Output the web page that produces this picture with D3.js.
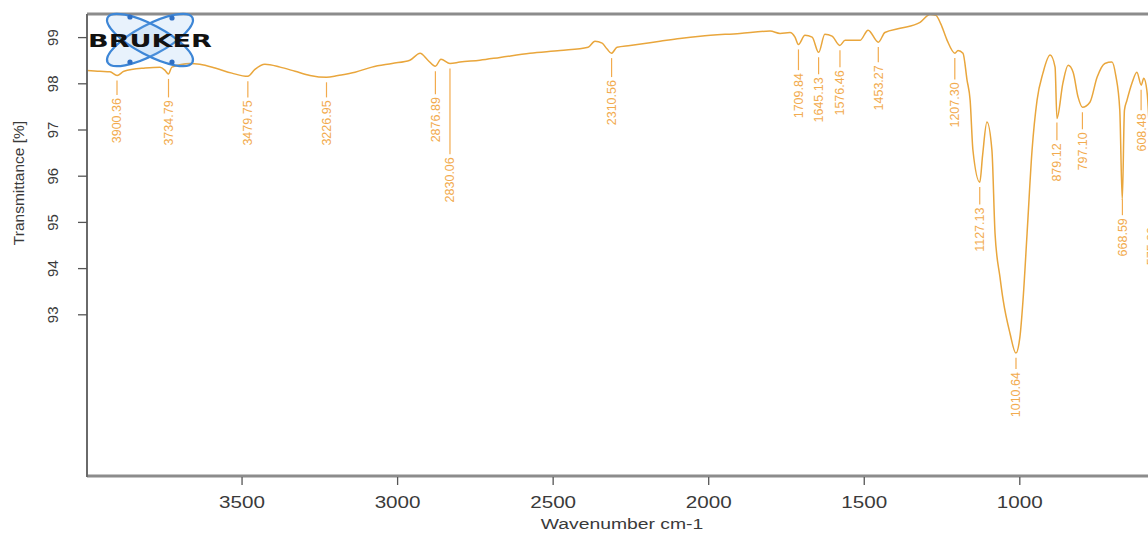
<!DOCTYPE html>
<html>
<head>
<meta charset="utf-8">
<script src="https://cdn.jsdelivr.net/npm/d3@7"></script>
<style>
  body { margin: 0; background: #fff; }
  svg { display: block; font-family: "Liberation Sans", Arial, sans-serif; }
</style>
</head>
<body>
<svg id="chart" width="1148" height="533"></svg>
<script>
/** spectrum: wavenumber (cm-1) and transmittance (%) **/
var wavenumbers = [4000, 3955, 3923, 3900, 3878, 3810, 3762, 3746, 3735, 3724, 3666, 3634, 3585, 3531, 3480,
    3457, 3425, 3376, 3328, 3280, 3227, 3190, 3135, 3081, 3016, 2959, 2926, 2901, 2877, 2859, 2830,
    2798, 2734, 2669, 2573, 2476, 2386, 2364, 2341, 2325, 2311, 2293, 2251, 2155, 2091, 2026, 1898,
    1801, 1769, 1737, 1721, 1710, 1689, 1666, 1645, 1625, 1602, 1577, 1560, 1512, 1486, 1453, 1432,
    1383, 1319, 1287, 1268, 1252, 1232, 1207, 1197, 1181, 1168, 1158, 1149, 1127, 1118, 1104, 1088,
    1078, 1062, 1052, 1030, 1011, 998, 988, 975, 959, 943, 924, 901, 885, 879, 860, 843, 827, 811,
    797, 773, 750, 725, 702, 690, 677, 669, 662, 654, 638, 622, 608, 600, 590, 580, 575, 560, 540];
var transmittance = [98.28, 98.26, 98.25, 98.17, 98.26, 98.33, 98.35, 98.28, 98.20, 98.35, 98.43, 98.41, 98.33, 98.22, 98.15,
    98.30, 98.41, 98.35, 98.26, 98.17, 98.13, 98.17, 98.24, 98.35, 98.43, 98.50, 98.65, 98.50, 98.37, 98.52, 98.43,
    98.46, 98.50, 98.56, 98.65, 98.71, 98.78, 98.91, 98.87, 98.74, 98.65, 98.78, 98.82, 98.91, 98.97, 99.02, 99.08,
    99.13, 99.08, 99.10, 99.00, 98.84, 99.04, 99.00, 98.67, 99.06, 99.02, 98.82, 98.93, 98.93, 99.15, 98.89, 99.10,
    99.19, 99.32, 99.49, 99.47, 99.28, 98.93, 98.65, 98.71, 98.65, 98.07, 97.63, 96.55, 95.86, 96.44, 97.16, 96.55,
    94.75, 93.80, 93.31, 92.59, 92.16, 92.51, 93.31, 94.75, 96.55, 97.63, 98.22, 98.61, 98.35, 97.24, 98.00, 98.39, 98.24, 97.70,
    97.48, 97.59, 98.13, 98.43, 98.46, 98.17, 97.42, 95.47, 97.42, 97.63, 98.00, 98.24, 97.96, 98.11, 97.85, 96.55, 95.36, 96.55, 97.9];

/** peak picks: label text, and level (%) where the label text starts **/
var peakLabels = ["3900.36", "3734.79", "3479.75", "3226.95", "2876.89", "2830.06", "2310.56", "1709.84", "1645.13",
    "1576.46", "1453.27", "1207.30", "1127.13", "1010.64", "879.12", "797.10", "668.59", "608.48", "575.20"];
var labelLevels = [97.68, 97.63, 97.63, 97.63, 97.70, 96.40, 98.07, 98.22, 98.13,
    98.28, 98.39, 98.02, 95.31, 91.75, 96.70, 96.94, 95.08, 97.35, 94.89];

var xTicks = [3500, 3000, 2500, 2000, 1500, 1000];
var yTicks = [93, 94, 95, 96, 97, 98, 99];

var svg = d3.select("#chart");
var plotLeft = 87, plotTop = 14, plotBottom = 476, plotRight = 1206;
var lineColor = "#e9a63c", labelColor = "#f2ab4e", axisText = "#3a3a3a";
var stretch = 1.29;

var x = d3.scaleLinear().domain([4000, 400]).range([86, 86 + 3600 * 0.3111]);
var y = d3.scaleLinear().domain([89.5, 99.5]).range([plotBottom, plotTop]);

var spectrum = wavenumbers.map(function (w, i) { return [w, transmittance[i]]; });

/** transmittance at a given wavenumber, linear between read points **/
function valueAt(w) {
    for (var i = 0; i < spectrum.length - 1; i++) {
        var a = spectrum[i], b = spectrum[i + 1];
        if (w <= a[0] && w >= b[0]) {
            var t = (a[0] - w) / (a[0] - b[0]);
            return a[1] + t * (b[1] - a[1]);
        }
    }
    return spectrum[spectrum.length - 1][1];
}

svg.append("defs").append("clipPath").attr("id", "plotclip")
    .append("rect").attr("x", plotLeft).attr("y", plotTop - 1)
    .attr("width", plotRight - plotLeft).attr("height", plotBottom - plotTop + 1);

/** spectrum line **/
var line = d3.line()
    .x(function (d) { return x(d[0]); })
    .y(function (d) { return y(d[1]); })
    .curve(d3.curveMonotoneX);

svg.append("path")
    .datum(spectrum)
    .attr("clip-path", "url(#plotclip)")
    .attr("fill", "none")
    .attr("stroke", lineColor)
    .attr("stroke-width", 1.5)
    .attr("d", line);

/** peak labels with their short marker lines **/
var peaks = svg.append("g").attr("clip-path", "url(#plotclip)");
peakLabels.forEach(function (txt, i) {
    var w = +txt;
    var px = x(w);
    var py = y(valueAt(w));
    var ty = y(labelLevels[i]);
    peaks.append("line")
        .attr("x1", px).attr("x2", px)
        .attr("y1", py + 5).attr("y2", ty - 3)
        .attr("stroke", labelColor)
        .attr("stroke-width", 1.2);
    peaks.append("text")
        .attr("transform", "translate(" + (px + 4.5) + "," + ty + ") rotate(-90)")
        .attr("text-anchor", "end")
        .style("font-size", "12.5px")
        .style("fill", labelColor)
        .text(txt);
});

/** frame **/
svg.append("line").attr("x1", plotLeft).attr("x2", 1148).attr("y1", plotTop).attr("y2", plotTop)
    .attr("stroke", "#8c8c8c").attr("stroke-width", 3);
svg.append("line").attr("x1", plotLeft).attr("x2", 1148).attr("y1", plotBottom).attr("y2", plotBottom)
    .attr("stroke", "#8c8c8c").attr("stroke-width", 3);
svg.append("line").attr("x1", plotLeft).attr("x2", plotLeft).attr("y1", plotTop).attr("y2", plotBottom + 1)
    .attr("stroke", "#6a6a6a").attr("stroke-width", 2);

/** x axis **/
var xAxis = d3.axisBottom(x).tickValues(xTicks).tickSize(8).tickFormat(d3.format("d"));
var gx = svg.append("g").attr("transform", "translate(0," + (plotBottom + 1) + ")").call(xAxis);
gx.select(".domain").remove();
gx.selectAll(".tick line").attr("stroke", "#555").attr("stroke-width", 1.3);
gx.selectAll(".tick text")
    .attr("y", 0).attr("dy", 0)
    .attr("transform", "translate(0,31) scale(" + stretch + ",1)")
    .style("font-size", "16px")
    .style("fill", axisText)
    .style("font-family", "Liberation Sans, Arial, sans-serif");

svg.append("text")
    .attr("transform", "translate(622,529) scale(" + stretch + ",1)")
    .attr("text-anchor", "middle")
    .style("font-size", "15px")
    .style("fill", axisText)
    .text("Wavenumber cm-1");

/** y axis, labels turned on their side **/
var yAxis = d3.axisLeft(y).tickValues(yTicks).tickSize(9).tickFormat(d3.format("d"));
var gy = svg.append("g").attr("transform", "translate(" + plotLeft + ",0)").call(yAxis);
gy.select(".domain").remove();
gy.selectAll(".tick line").attr("stroke", "#555").attr("stroke-width", 1.3);
gy.selectAll(".tick text")
    .attr("x", 0).attr("dy", 0)
    .attr("transform", "translate(-29,0) rotate(-90)")
    .attr("text-anchor", "middle")
    .style("font-size", "15px")
    .style("fill", axisText)
    .style("font-family", "Liberation Sans, Arial, sans-serif");

svg.append("text")
    .attr("transform", "translate(24,183) rotate(-90)")
    .attr("text-anchor", "middle")
    .style("font-size", "15.5px")
    .style("fill", axisText)
    .text("Transmittance [%]");

/** Bruker logo in the top-left corner **/
var logo = svg.append("g").attr("transform", "translate(150,40)");
[-28, 28].forEach(function (a) {
    logo.append("ellipse")
        .attr("rx", 48).attr("ry", 15)
        .attr("transform", "rotate(" + a + ")")
        .attr("fill", "rgba(130,185,240,0.18)")
        .attr("stroke", "#3d86d6")
        .attr("stroke-width", 2.2);
});
[[-20, -23], [-20, 22], [22, -22], [22, 22]].forEach(function (p) {
    logo.append("circle").attr("cx", p[0]).attr("cy", p[1]).attr("r", 2.6).attr("fill", "#2f6fc4");
});
logo.append("text")
    .attr("x", -62).attr("y", 7)
    .attr("textLength", 124)
    .attr("lengthAdjust", "spacingAndGlyphs")
    .style("font-family", "DejaVu Sans, sans-serif")
    .style("font-weight", "900")
    .style("font-size", "17px")
    .style("fill", "#111")
    .text("BRUKER");
</script>
</body>
</html>
